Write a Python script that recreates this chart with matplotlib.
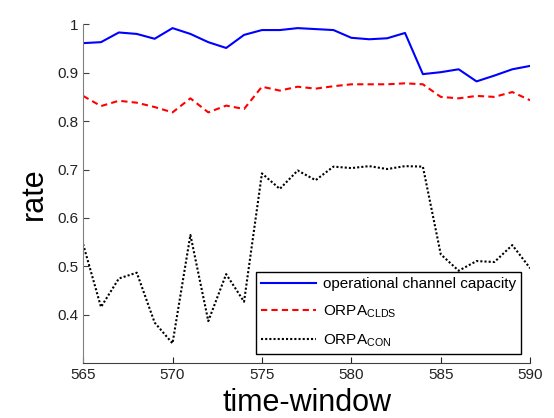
import numpy as np
import matplotlib
matplotlib.use('Agg')
import matplotlib.pyplot as plt

plt.rcParams['font.family'] = 'Liberation Sans'
plt.rcParams['mathtext.fontset'] = 'custom'
plt.rcParams['mathtext.rm'] = 'Liberation Sans'
plt.rcParams['mathtext.it'] = 'Liberation Sans'

time_window = np.arange(565, 591)

capacity = [0.961, 0.963, 0.983, 0.980, 0.970, 0.992, 0.980, 0.963, 0.951, 0.978,
            0.988, 0.988, 0.992, 0.990, 0.988, 0.972, 0.969, 0.971, 0.982, 0.897,
            0.901, 0.907, 0.882, 0.894, 0.907, 0.914]

orpa_clds = [0.852, 0.831, 0.842, 0.838, 0.829, 0.818, 0.847, 0.818, 0.832, 0.825,
             0.871, 0.863, 0.871, 0.867, 0.872, 0.876, 0.876, 0.876, 0.878, 0.876,
             0.850, 0.847, 0.852, 0.850, 0.860, 0.843]

orpa_con = [0.546, 0.416, 0.475, 0.487, 0.384, 0.341, 0.565, 0.387, 0.484, 0.427,
            0.692, 0.660, 0.698, 0.678, 0.706, 0.703, 0.707, 0.701, 0.707, 0.706,
            0.525, 0.491, 0.511, 0.509, 0.544, 0.496]

fig = plt.figure(figsize=(5.54, 4.18), dpi=100)
ax = fig.add_axes([0.150, 0.131, 0.807, 0.811])

ax.plot(time_window, capacity, '-', color='#0000ff', lw=1.5,
        label='operational channel capacity')
ax.plot(time_window, orpa_clds, '--', color='#ff0000', lw=1.5, dashes=(3, 2),
        label=r'ORPA$_{\mathrm{CLDS}}$')
ax.plot(time_window, orpa_con, ':', color='black', lw=1.5, dashes=(1, 1),
        label=r'ORPA$_{\mathrm{CON}}$')

ax.set_xlim(565, 590)
ax.set_ylim(0.3, 1.0)
ax.set_xticks(np.arange(565, 591, 5))
ax.set_yticks([0.4, 0.5, 0.6, 0.7, 0.8, 0.9, 1.0])
ax.set_yticklabels(['0.4', '0.5', '0.6', '0.7', '0.8', '0.9', '1'])

for s in ['top', 'right']:
    ax.spines[s].set_visible(False)
ax.spines['left'].set_color('#808080')
ax.spines['bottom'].set_color('#404040')
ax.tick_params(direction='in', length=4, labelsize=11, colors='#222222')
ax.tick_params(axis='y', color='#404040')

ax.set_xlabel('time-window', fontsize=22, labelpad=4)
ax.set_ylabel('rate', fontsize=22, labelpad=6)

leg = ax.legend(loc='lower right', fontsize=11, frameon=True, fancybox=False,
                edgecolor='black', framealpha=1, handlelength=3.6,
                borderaxespad=0.6, labelspacing=0.8, handletextpad=0.4,
                borderpad=0.35)
leg.get_frame().set_linewidth(1.0)

fig.savefig('out.png', dpi=100, facecolor='white')
